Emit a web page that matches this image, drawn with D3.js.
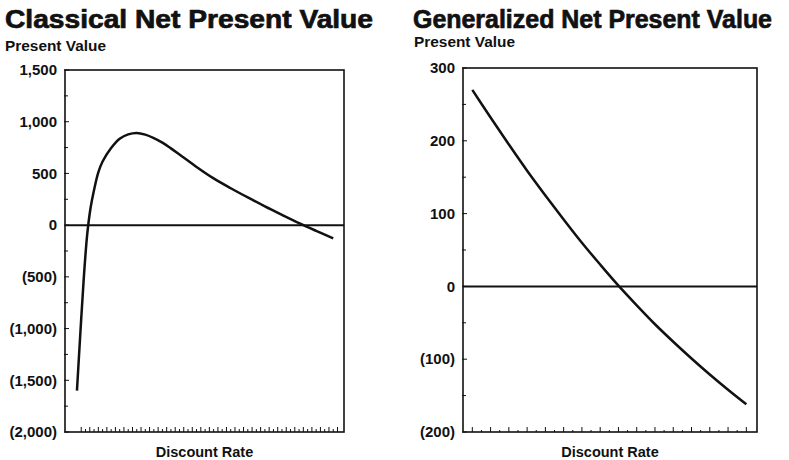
<!DOCTYPE html>
<html>
<head>
<meta charset="utf-8">
<script src="https://cdn.jsdelivr.net/npm/d3@7"></script>
<style>
  body { margin: 0; background: #fff; }
  svg text { font-family: "Liberation Sans", Arial, Helvetica, sans-serif; font-weight: bold; fill: #111; }
</style>
</head>
<body>
<svg id="chart" width="789" height="460"></svg>
<script>
// classical NPV curve
var classicalRates = [0, 0.004, 0.008, 0.012, 0.016, 0.02, 0.025, 0.03, 0.04, 0.05, 0.06, 0.07, 0.08,
  0.09, 0.10, 0.11, 0.12, 0.14, 0.16, 0.18, 0.20, 0.22, 0.24, 0.26, 0.28, 0.30];
var classicalValues = [-1600, -1040, -510, -90, 170, 340, 510, 615, 745, 835, 878, 892, 875,
  842, 798, 742, 683, 563, 452, 357, 268, 182, 100, 20, -55, -128];
var classicalTicks = [1500, 1000, 500, 0, -500, -1000, -1500, -2000];

// generalized NPV curve
var generalRates = [0, 0.02, 0.04, 0.06, 0.08, 0.10, 0.12, 0.14, 0.16, 0.18, 0.20, 0.22, 0.24, 0.26, 0.28, 0.30];
var generalValues = [270, 232, 195, 159, 125, 92, 60, 30, 1, -26, -52, -76, -99, -121, -142, -162];
var generalTicks = [300, 200, 100, 0, -100, -200];

var svg = d3.select("#chart");

// number format with brackets for negatives
function fmt(v) {
  var s = d3.format(",")(Math.abs(v));
  return v < 0 ? "(" + s + ")" : s;
}

renderPanel({
  title: "Classical Net Present Value", titleX: 5, titleLen: 368,
  subX: 5, subY: 51,
  left: 65, right: 344, top: 70, bottom: 432,
  xDomain: [-0.014, 0.3126], yDomain: [-2000, 1500],
  yTicks: classicalTicks, yMinorStep: 250,
  xTicks: d3.range(61).map(i => 0.005 + i * 0.005), xAlternate: true,
  rates: classicalRates, values: classicalValues
});

renderPanel({
  title: "Generalized Net Present Value", titleX: 413, titleLen: 359,
  subX: 414, subY: 47,
  left: 463, right: 757, top: 68, bottom: 432,
  xDomain: [-0.0102, 0.3117], yDomain: [-200, 300],
  yTicks: generalTicks, yMinorStep: 50,
  xTicks: d3.range(16).map(i => i * 0.02), xAlternate: false,
  rates: generalRates, values: generalValues
});

function renderPanel(p) {
  var g = svg.append("g");

  var x = d3.scaleLinear().domain(p.xDomain).range([p.left, p.right]);
  var y = d3.scaleLinear().domain(p.yDomain).range([p.bottom, p.top]);

  g.append("text").text(p.title)
    .attr("x", p.titleX).attr("y", 28)
    .attr("font-size", 26)
    .attr("stroke", "#111").attr("stroke-width", 0.7)
    .attr("textLength", p.titleLen).attr("lengthAdjust", "spacingAndGlyphs");

  g.append("text").text("Present Value")
    .attr("x", p.subX).attr("y", p.subY)
    .attr("font-size", 14)
    .attr("textLength", 101).attr("lengthAdjust", "spacingAndGlyphs");

  // y tick labels
  g.selectAll(".ylab").data(p.yTicks).join("text")
    .attr("class", "ylab")
    .attr("x", p.left - 8)
    .attr("y", d => y(d))
    .attr("dy", "0.35em")
    .attr("text-anchor", "end")
    .attr("font-size", 15)
    .text(fmt);

  // y ticks, major + minor, pointing in
  var yMinor = d3.range(p.yDomain[0], p.yDomain[1] + 1, p.yMinorStep);
  g.selectAll(".ytick").data(yMinor).join("line")
    .attr("x1", p.left - 1)
    .attr("x2", d => p.left + (p.yTicks.includes(d) ? 4 : 3))
    .attr("y1", d => y(d)).attr("y2", d => y(d))
    .attr("stroke", "#111").attr("stroke-width", 1);

  // x ticks along the bottom
  g.selectAll(".xtick").data(p.xTicks).join("line")
    .attr("x1", d => x(d)).attr("x2", d => x(d))
    .attr("y1", p.bottom)
    .attr("y2", (d, i) => p.bottom - (p.xAlternate ? (i % 2 == 0 ? 5 : 3) : 5))
    .attr("stroke", "#111").attr("stroke-width", 1);

  if (!p.xAlternate) {
    var mids = p.xTicks.slice(1).map((d, i) => (d + p.xTicks[i]) / 2);
    g.selectAll(".xminor").data(mids).join("line")
      .attr("x1", d => x(d)).attr("x2", d => x(d))
      .attr("y1", p.bottom).attr("y2", p.bottom - 2)
      .attr("stroke", "#111").attr("stroke-width", 1);
  }

  // zero line
  g.append("line")
    .attr("x1", p.left).attr("x2", p.right)
    .attr("y1", y(0)).attr("y2", y(0))
    .attr("stroke", "#111").attr("stroke-width", 2);

  // curve
  var pts = p.rates.map((r, i) => [r, p.values[i]]);
  g.append("path")
    .attr("d", d3.line().x(d => x(d[0])).y(d => y(d[1])).curve(d3.curveCatmullRom)(pts))
    .attr("fill", "none")
    .attr("stroke", "#111").attr("stroke-width", 2.5);

  // frame
  g.append("rect")
    .attr("x", p.left).attr("y", p.top)
    .attr("width", p.right - p.left).attr("height", p.bottom - p.top)
    .attr("fill", "none").attr("stroke", "#111").attr("stroke-width", 1.6);

  g.append("text").text("Discount Rate")
    .attr("x", (p.left + p.right) / 2).attr("y", 457)
    .attr("text-anchor", "middle")
    .attr("font-size", 14.5);
}
</script>
</body>
</html>
